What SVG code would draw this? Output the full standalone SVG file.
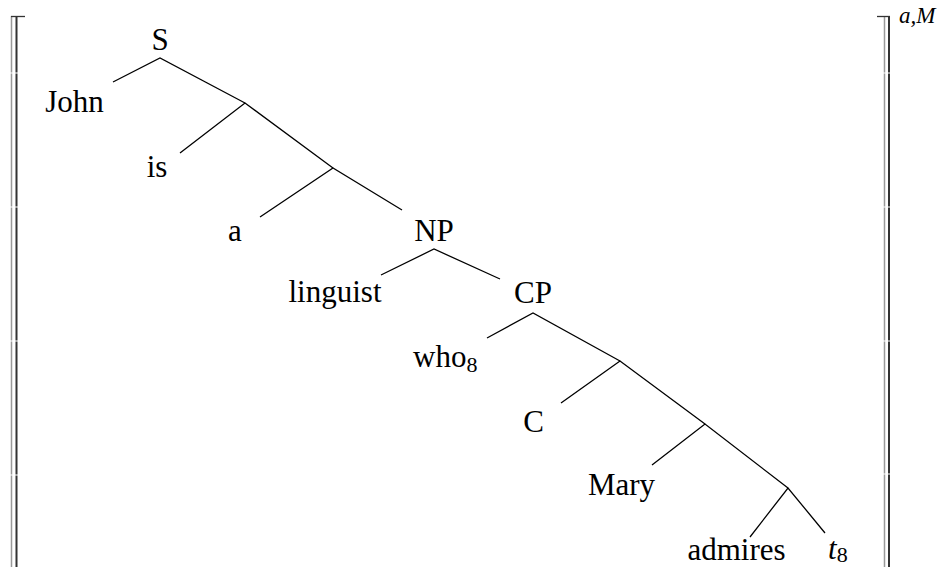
<svg xmlns="http://www.w3.org/2000/svg" width="938" height="567" viewBox="0 0 938 567">
<style>
text{font-family:"Liberation Serif","Times New Roman",serif;font-size:31px;fill:#000}
.m{text-anchor:middle}
.sub{font-size:22px}
.it{font-style:italic}
.e{stroke:#000;stroke-width:1.3;fill:none}
.bl{stroke:#999;stroke-width:1.5;fill:none}
.bd{stroke:#333;stroke-width:2;fill:none}
</style>
<rect width="938" height="567" fill="#fff"/>
<g id="brackets">
<path class="bl" d="M11.5 567V16"/>
<path class="bd" d="M16.5 567V16"/>
<path class="bd" d="M11 16.5H25" style="stroke-width:1.3"/>
<path class="bl" d="M884.5 567V16"/>
<path class="bd" d="M889 567V16"/>
<path class="bd" d="M877 16.5H890" style="stroke-width:1.3"/>
<g fill="#fff"><rect x="9" y="72.5" width="10" height="1"/><rect x="9" y="206.5" width="10" height="1"/><rect x="9" y="340.5" width="10" height="1"/><rect x="9" y="474.5" width="10" height="1"/><rect x="882" y="72.5" width="10" height="1"/><rect x="882" y="206.5" width="10" height="1"/><rect x="882" y="340.5" width="10" height="1"/><rect x="882" y="473.5" width="10" height="1"/></g>
<text class="it" x="899" y="23" style="font-size:23px">a,M</text>
</g>
<g id="edges">
<path class="e" d="M113 82L160 58L245 103"/>
<path class="e" d="M180 153L245 103L333 168"/>
<path class="e" d="M260 217L333 168L402 210"/>
<path class="e" d="M381 275L434 249L500 279"/>
<path class="e" d="M487 338L533 313L620 361"/>
<path class="e" d="M561 403L620 361L705 424"/>
<path class="e" d="M652 465L705 424L788 488"/>
<path class="e" d="M750 537L788 488L825 533"/>
</g>
<g id="n-S"><text class="m" x="160" y="50">S</text></g>
<g id="n-John"><text class="m" x="74.5" y="112">John</text></g>
<g id="n-is"><text class="m" x="157" y="177">is</text></g>
<g id="n-a"><text class="m" x="235" y="241">a</text></g>
<g id="n-NP"><text class="m" x="434" y="241">NP</text></g>
<g id="n-linguist"><text class="m" x="335" y="302">linguist</text></g>
<g id="n-CP"><text class="m" x="533" y="303">CP</text></g>
<g id="n-who"><text x="413" y="367">who<tspan class="sub" dy="5">8</tspan></text></g>
<g id="n-C"><text class="m" x="533.5" y="432">C</text></g>
<g id="n-Mary"><text class="m" x="621.5" y="495">Mary</text></g>
<g id="n-admires"><text class="m" x="736.5" y="560">admires</text></g>
<g id="n-t"><text x="828" y="559"><tspan class="it">t</tspan><tspan class="sub" dy="3">8</tspan></text></g>
</svg>
